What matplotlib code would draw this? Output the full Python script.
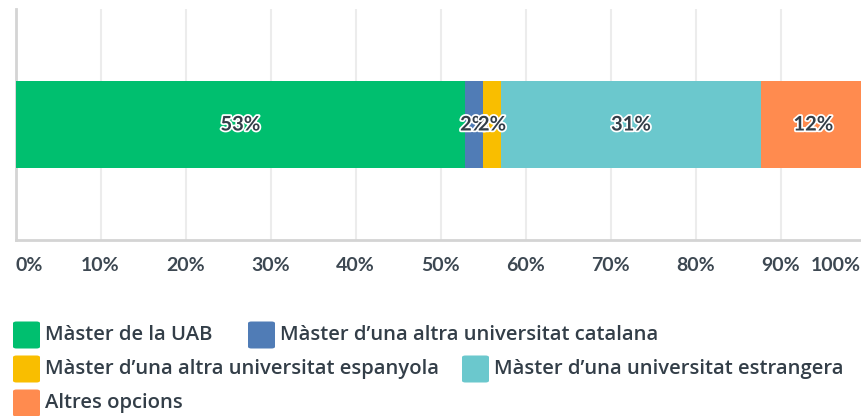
import matplotlib
matplotlib.use("Agg")
import matplotlib.pyplot as plt
import matplotlib.patheffects as pe
import matplotlib.transforms as mtransforms
from matplotlib.patches import FancyBboxPatch

categories = ["Màster de la UAB",
              "Màster d\u2019una altra universitat catalana",
              "Màster d\u2019una altra universitat espanyola",
              "Màster d\u2019una universitat estrangera",
              "Altres opcions"]
values = [52.9, 2.1, 2.1, 30.6, 12.3]
labels = ["53%", "2%", "2%", "31%", "12%"]
colors = ["#00bf6f", "#507cb6", "#f9be00", "#6bc8cd", "#ff8b4f"]
xticks = [0, 10, 20, 30, 40, 50, 60, 70, 80, 90, 100]
xticklabels = [f"{t}%" for t in xticks]

W, H = 861, 416
fig = plt.figure(figsize=(W / 100, H / 100), dpi=100)
fig.patch.set_facecolor("white")

ax = fig.add_axes([15.5 / W, (H - 240) / H, 850 / W, 231 / H])
ax.set_xlim(0, 100)
ax.set_ylim(-1, 1)

text_color = "#333e48"
left = 0
for v, lab, c in zip(values, labels, colors):
    ax.barh(0, v, left=left, height=0.745, color=c, zorder=3)
    t = ax.text(left + v / 2, 0, lab, ha="center", va="center",
                fontsize=14.5, fontweight="bold", family="Lato",
                color=text_color, zorder=5)
    t.set_path_effects([pe.withStroke(linewidth=2.5, foreground="white")])
    left += v

ax.set_xticks(xticks)
ax.set_xticklabels(xticklabels, fontsize=14, fontweight="bold",
                   family="Lato", color="#3d4852")
ax.set_yticks([])
ax.tick_params(axis="x", length=0, pad=12)
tls = ax.get_xticklabels()
tls[0].set_ha("left")
tls[-1].set_ha("right")
tls[-1].set_transform(tls[-1].get_transform() +
                      mtransforms.ScaledTranslation(-5 / 100, 0, fig.dpi_scale_trans))
ax.grid(axis="x", color="#ececec", linewidth=1.5, zorder=0)
for s in ["top", "right"]:
    ax.spines[s].set_visible(False)
ax.spines["left"].set_color("#d4d4d4")
ax.spines["left"].set_linewidth(2)
ax.spines["bottom"].set_color("#d4d4d4")
ax.spines["bottom"].set_linewidth(2)

# legend (flow layout)
item_pos = [(13, 335), (248, 335), (13, 369), (462, 369), (13, 403)]
sq = 27
for (px, py), cat, c in zip(item_pos, categories, colors):
    fig.patches.append(FancyBboxPatch(
        (px / W, (H - py - sq / 2) / H), sq / W, sq / H,
        boxstyle="round,pad=0,rounding_size=0.004",
        transform=fig.transFigure, facecolor=c, edgecolor="none"))
    fig.text((px + sq + 5) / W, (H - py) / H, cat, ha="left", va="center",
             fontsize=14.6, fontweight="semibold", family="Open Sans",
             color=text_color)

fig.savefig("out.png", dpi=100)
